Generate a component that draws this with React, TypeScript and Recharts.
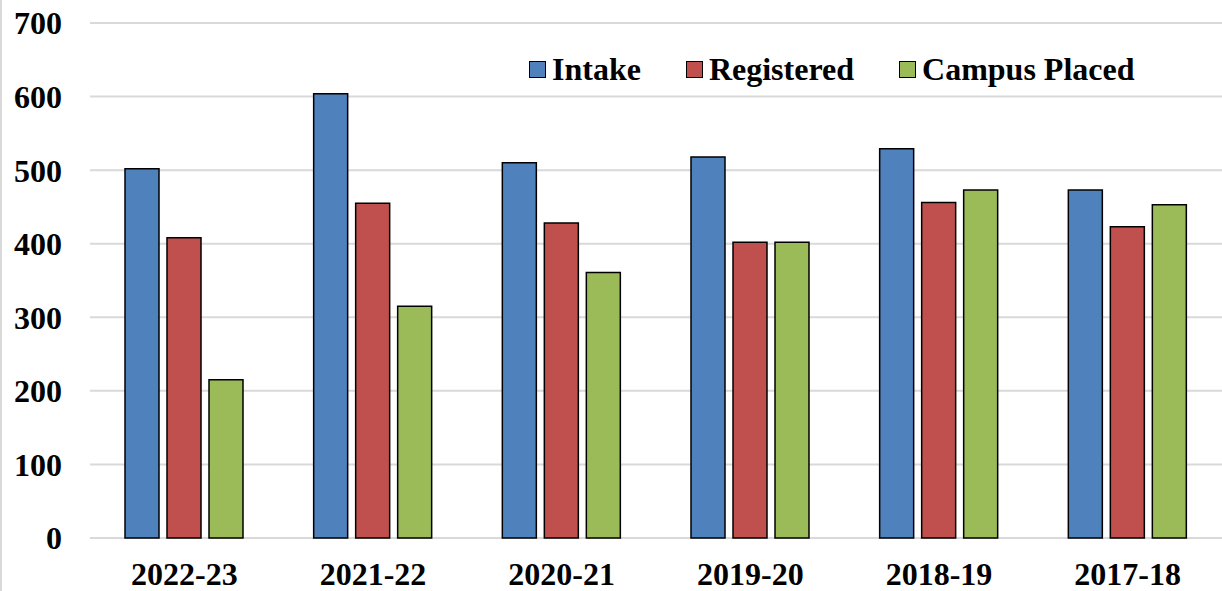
import React from "react";
import { BarChart, Bar, XAxis, YAxis, CartesianGrid, Legend } from "recharts";

const years = ["2022-23", "2021-22", "2020-21", "2019-20", "2018-19", "2017-18"];
const intake = [502, 604, 510, 518, 529, 473];
const registered = [408, 455, 428, 402, 456, 423];
const campusPlaced = [215, 315, 361, 402, 473, 453];
const yTicks = [0, 100, 200, 300, 400, 500, 600, 700];

const seriesNames = ["Intake", "Registered", "Campus Placed"];
const seriesColors = ["#4F81BD", "#C0504D", "#9BBB59"];

const data = years.map((y, i) => ({
  year: y,
  Intake: intake[i],
  Registered: registered[i],
  "Campus Placed": campusPlaced[i],
}));

const FONT = '"Liberation Serif", "Times New Roman", serif';

const LegendContent = () => (
  <div style={{ display: "flex", alignItems: "center", fontFamily: FONT, fontWeight: "bold", fontSize: 32, whiteSpace: "nowrap" }}>
    {seriesNames.map((n, i) => (
      <div key={n} style={{ display: "flex", alignItems: "center", marginRight: i < 2 ? 45 : 0 }}>
        <span
          style={{
            display: "inline-block",
            width: 15,
            height: 15,
            background: seriesColors[i],
            border: "1.5px solid #000",
            marginRight: 6,
          }}
        />
        <span style={{ lineHeight: "36px", color: "#000" }}>{n}</span>
      </div>
    ))}
  </div>
);

export default function App() {
  return (
    <div style={{ position: "absolute", left: 0, top: 0, width: 1222, height: 591, background: "#fff" }}>
      <div style={{ position: "absolute", left: 0, top: 0, width: 2, height: 591, background: "#D9D9D9" }} />
      <BarChart
        width={1222}
        height={591}
        data={data}
        margin={{ top: 23, right: 0, left: 0, bottom: 0 }}
        barSize={34}
        barGap={8}
      >
        <CartesianGrid horizontal={true} vertical={false} stroke="#D9D9D9" strokeWidth={2} />
        <XAxis
          dataKey="year"
          height={53}
          axisLine={false}
          tickLine={false}
          tickSize={0}
          tickMargin={24}
          interval={0}
          tick={{ fontFamily: FONT, fontWeight: "bold", fontSize: 32, fill: "#000" }}
        />
        <YAxis
          width={90}
          domain={[0, 700]}
          ticks={yTicks}
          axisLine={false}
          tickLine={false}
          tickSize={0}
          tickMargin={28}
          interval={0}
          tick={{ fontFamily: FONT, fontWeight: "bold", fontSize: 32, fill: "#000" }}
        />
        <Legend
          layout="horizontal"
          align="center"
          verticalAlign="middle"
          content={<LegendContent />}
          wrapperStyle={{ top: 51, left: 529, width: "auto" }}
        />
        {seriesNames.map((n, i) => (
          <Bar
            key={n}
            dataKey={n}
            fill={seriesColors[i]}
            stroke="#000"
            strokeWidth={1.5}
            isAnimationActive={false}
          />
        ))}
      </BarChart>
    </div>
  );
}
